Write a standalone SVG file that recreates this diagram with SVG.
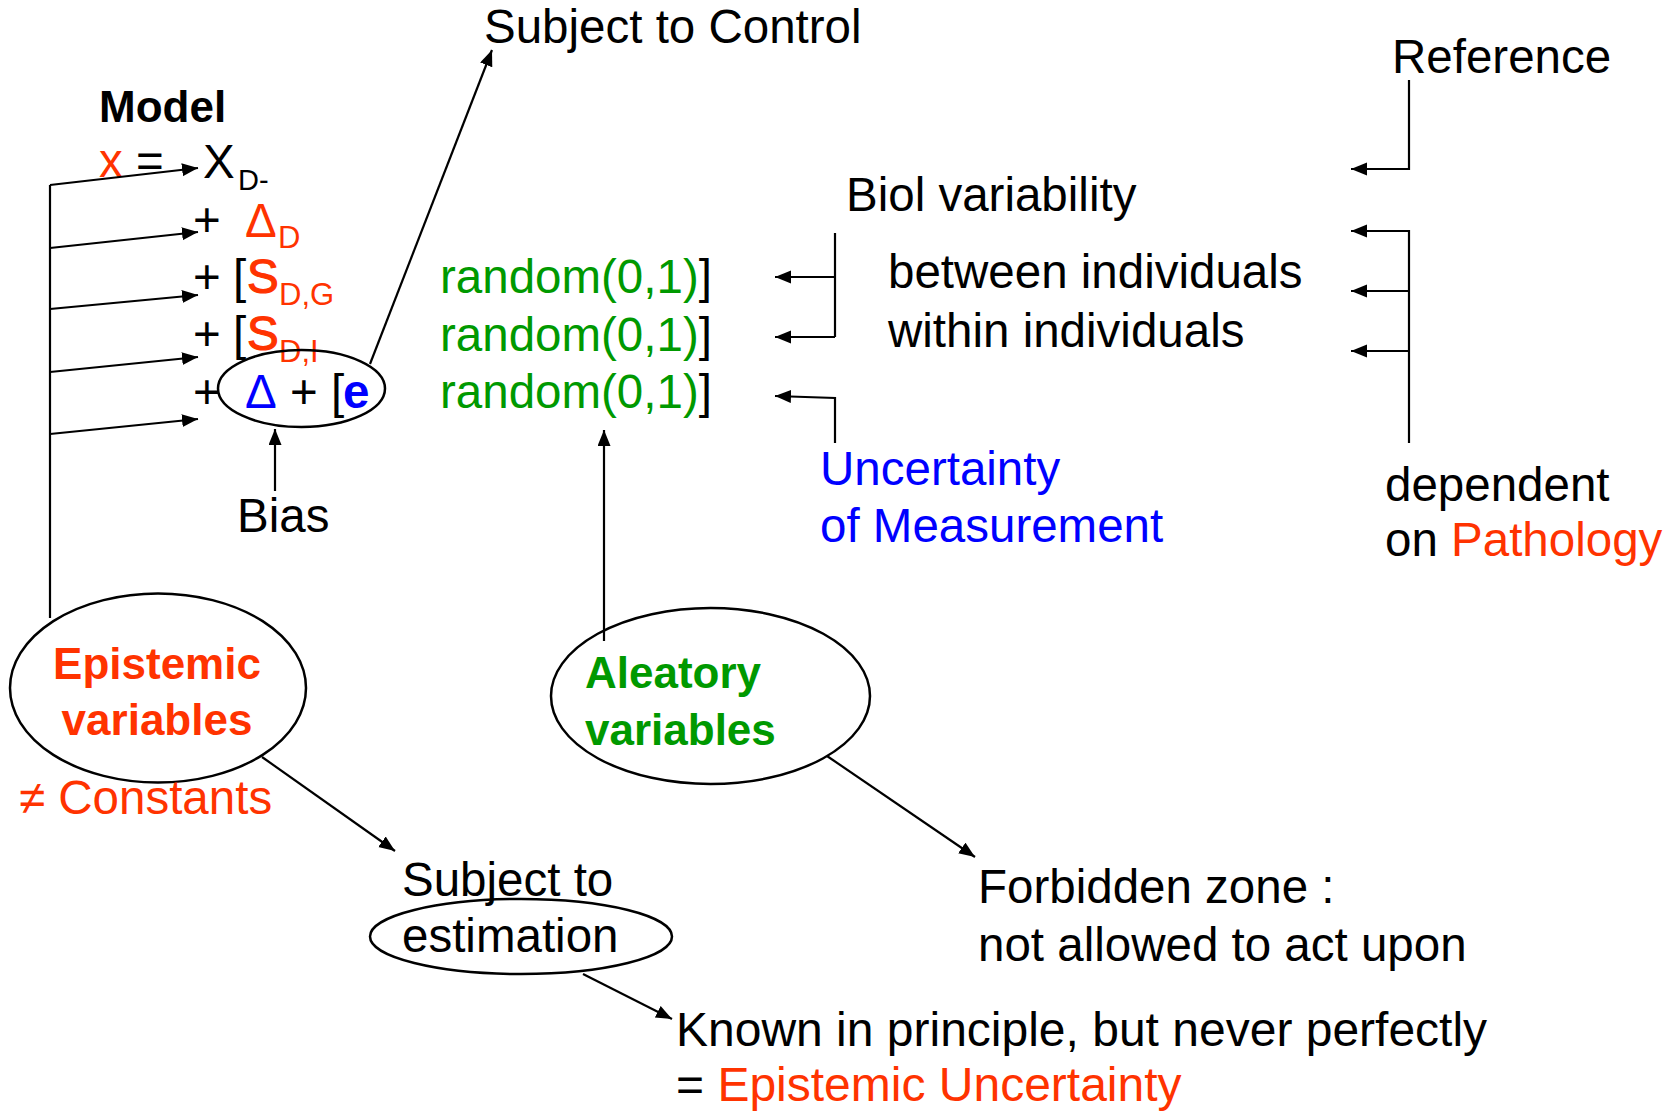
<svg xmlns="http://www.w3.org/2000/svg" width="1674" height="1111" viewBox="0 0 1674 1111">
  <defs>
    <marker id="arrow" markerUnits="userSpaceOnUse" markerWidth="18" markerHeight="14" refX="16" refY="6.5" orient="auto">
      <path d="M0,0 L16,6.5 L0,13 z" fill="#000"/>
    </marker>
    <style>
      text { font-family: "Liberation Sans", Arial, sans-serif; font-size: 47.5px; fill: #000; }
      .b { font-weight: bold; }
      .red { fill: #ff3300; }
      .green { fill: #009900; }
      .blue { fill: #0000ff; }
      .sub { font-size: 31px; }
      .heavy { stroke: #ff3300; stroke-width: 1.2px; }
      .ell { fill: none; stroke: #000; stroke-width: 2.5; }
      .ln { fill: none; stroke: #000; stroke-width: 2.2; }
      .ar { fill: none; stroke: #000; stroke-width: 2.2; marker-end: url(#arrow); }
    </style>
  </defs>
  <rect width="1674" height="1111" fill="#fff"/>

  <!-- model equation -->
  <g id="model">
    <text class="b" x="99" y="122" style="font-size:44px">Model</text>
    <text x="99" y="177"><tspan class="red">x</tspan> =</text>
    <text x="203" y="178">X</text>
    <text class="sub" x="238" y="190" style="font-size:29px">D-</text>
    <text x="193" y="236">+</text>
    <text class="red" x="245" y="237">Δ</text>
    <text class="red sub" x="278" y="248">D</text>
    <text x="193" y="293">+</text>
    <text x="233" y="293">[</text>
    <text class="red heavy" x="247" y="293">S</text>
    <text class="red sub" x="279" y="305">D,G</text>
    <text x="193" y="350">+</text>
    <text x="233" y="350">[</text>
    <text class="red heavy" x="247" y="350">S</text>
    <text class="red sub" x="279" y="362">D,I</text>
    <text x="193" y="408">+</text>
  </g>

  <!-- measurement term -->
  <g id="measurement-term">
    <ellipse class="ell" cx="301.5" cy="388.5" rx="83.5" ry="38.5"/>
    <text class="blue" x="245" y="408">Δ</text>
    <text x="290" y="408">+</text>
    <text x="331" y="408">[</text>
    <text class="blue b" x="343" y="408">e</text>
  </g>

  <g id="bias">
    <text x="237" y="532">Bias</text>
  </g>

  <g id="subject-to-control">
    <text x="484" y="43">Subject to Control</text>
  </g>

  <g id="random-terms">
    <text x="440" y="293"><tspan class="green">random(0,1)</tspan>]</text>
    <text x="440" y="351"><tspan class="green">random(0,1)</tspan>]</text>
    <text x="440" y="408"><tspan class="green">random(0,1)</tspan>]</text>
  </g>

  <g id="biol-variability">
    <text x="846" y="211">Biol variability</text>
    <text x="888" y="288">between individuals</text>
    <text x="888" y="347">within individuals</text>
  </g>

  <g id="uncertainty-of-measurement">
    <text class="blue" x="820" y="485">Uncertainty</text>
    <text class="blue" x="820" y="542">of Measurement</text>
  </g>

  <g id="reference">
    <text x="1392" y="73">Reference</text>
  </g>

  <g id="pathology">
    <text x="1385" y="501">dependent</text>
    <text x="1385" y="556">on <tspan class="red">Pathology</tspan></text>
  </g>

  <g id="epistemic-variables">
    <ellipse class="ell" cx="158" cy="688" rx="148" ry="94.5"/>
    <text class="red b" x="157" y="679" text-anchor="middle" style="font-size:44px">Epistemic</text>
    <text class="red b" x="157" y="735" text-anchor="middle" style="font-size:44px">variables</text>
    <text class="red" x="19" y="814">≠ Constants</text>
  </g>

  <g id="aleatory-variables">
    <ellipse class="ell" cx="710.5" cy="696" rx="159.5" ry="88"/>
    <text class="green b" x="585" y="688" style="font-size:44px">Aleatory</text>
    <text class="green b" x="585" y="745" style="font-size:44px">variables</text>
  </g>

  <g id="subject-to-estimation">
    <text x="402" y="896">Subject to</text>
    <ellipse class="ell" cx="521" cy="936.5" rx="151" ry="37.5"/>
    <text x="402" y="952">estimation</text>
  </g>

  <g id="forbidden-zone">
    <text x="978" y="903">Forbidden zone :</text>
    <text x="978" y="961">not allowed to act upon</text>
  </g>

  <g id="epistemic-uncertainty">
    <text x="676" y="1046" style="font-size:48px">Known in principle, but never perfectly</text>
    <text x="676" y="1101" style="font-size:48px">= <tspan class="red">Epistemic Uncertainty</tspan></text>
  </g>

  <!-- connectors -->
  <g id="connectors">
    <path class="ln" d="M50,185 V618"/>
    <path class="ar" d="M50,185 L198,168"/>
    <path class="ar" d="M50,248 L198,232"/>
    <path class="ar" d="M50,309 L198,295"/>
    <path class="ar" d="M50,372 L198,357"/>
    <path class="ar" d="M50,434 L198,419"/>
    <path class="ar" d="M370,364 L492,50"/>
    <path class="ar" d="M275,491 L275,429"/>
    <path class="ln" d="M835,233 V337"/>
    <path class="ar" d="M835,277 L775,277"/>
    <path class="ar" d="M835,337 L775,337"/>
    <path class="ar" d="M835,443 V398 L775,396"/>
    <path class="ar" d="M1409,80 V169 L1351,169"/>
    <path class="ar" d="M1409,443 V231 L1351,231"/>
    <path class="ar" d="M1409,291 L1351,291"/>
    <path class="ar" d="M1409,351 L1351,351"/>
    <path class="ar" d="M604,641 L604,430"/>
    <path class="ar" d="M262,757 L395,851"/>
    <path class="ar" d="M827,756 L975,857"/>
    <path class="ar" d="M583,974 L672,1019"/>
  </g>
</svg>
